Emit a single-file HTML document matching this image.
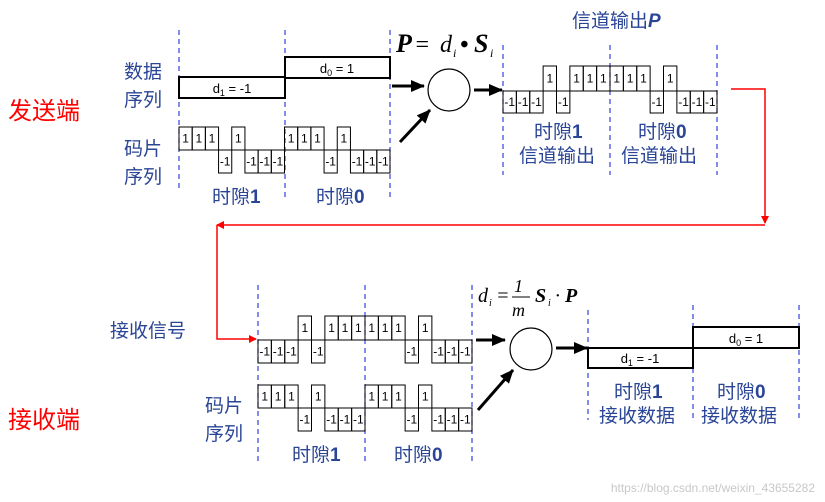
<!DOCTYPE html>
<html><head><meta charset="utf-8"><style>
html,body{margin:0;padding:0;background:#fff;}
svg{display:block;}
.lb{font-family:"Liberation Sans","Noto Sans CJK SC",sans-serif;fill:#2a4596;font-size:19px;}
.b{font-weight:bold;}
.red{font-family:"Liberation Sans","Noto Sans CJK SC",sans-serif;fill:#f00;font-size:24px;}
.ch{font-family:"Liberation Sans",sans-serif;font-size:12px;fill:#000;text-anchor:middle;}
.dt{font-family:"Liberation Sans",sans-serif;font-size:13px;fill:#000;text-anchor:middle;}
.eq{font-family:"Liberation Serif",serif;font-style:italic;fill:#000;}
</style></head><body>
<svg id="s" width="825" height="502" viewBox="0 0 825 502" xmlns="http://www.w3.org/2000/svg">
<defs>
<marker id="ak" markerWidth="14" markerHeight="12" refX="13" refY="6" orient="auto" markerUnits="userSpaceOnUse"><path d="M0,0 L14,6 L0,12 z" fill="#000"/></marker>
<marker id="ar" markerWidth="8" markerHeight="8" refX="7" refY="4" orient="auto" markerUnits="userSpaceOnUse"><path d="M0,0 L8,4 L0,8 z" fill="#f00"/></marker>
</defs>
<g stroke="#3344dd" stroke-width="1.2" stroke-dasharray="5,4" fill="none">
<line x1="179" y1="30" x2="179" y2="190"/><line x1="285" y1="30" x2="285" y2="200"/><line x1="390" y1="30" x2="390" y2="200"/>
<line x1="503" y1="45" x2="503" y2="175"/><line x1="610" y1="45" x2="610" y2="175"/><line x1="717" y1="45" x2="717" y2="175"/>
<line x1="258" y1="285" x2="258" y2="465"/><line x1="365" y1="285" x2="365" y2="465"/><line x1="472" y1="285" x2="472" y2="465"/>
<line x1="588" y1="310" x2="588" y2="420"/><line x1="693" y1="305" x2="693" y2="420"/><line x1="799" y1="305" x2="799" y2="420"/>
</g>
<g fill="none" stroke="#000" stroke-width="2">
<rect x="179" y="77" width="106" height="21"/><rect x="285" y="57" width="105" height="21"/>
<rect x="588" y="348" width="105" height="20"/><rect x="693" y="327" width="106" height="21"/>
</g>
<text class="dt" x="232" y="93">d<tspan font-size="9" dy="3">1</tspan><tspan dy="-3"> = -1</tspan></text>
<text class="dt" x="337" y="73">d<tspan font-size="9" dy="3">0</tspan><tspan dy="-3"> = 1</tspan></text>
<text class="dt" x="640" y="363">d<tspan font-size="9" dy="3">1</tspan><tspan dy="-3"> = -1</tspan></text>
<text class="dt" x="746" y="343">d<tspan font-size="9" dy="3">0</tspan><tspan dy="-3"> = 1</tspan></text>
<g id="chips"></g>
<circle cx="449" cy="90" r="21" fill="none" stroke="#000" stroke-width="1.2"/>
<circle cx="531" cy="349" r="21" fill="none" stroke="#000" stroke-width="1.2"/>
<g stroke="#000" stroke-width="3" fill="none">
<line x1="392" y1="86" x2="424" y2="86" marker-end="url(#ak)"/>
<line x1="400" y1="142" x2="430" y2="110" marker-end="url(#ak)"/>
<line x1="474" y1="90" x2="502" y2="90" marker-end="url(#ak)"/>
<line x1="476" y1="340" x2="505" y2="340" marker-end="url(#ak)"/>
<line x1="478" y1="410" x2="513" y2="370" marker-end="url(#ak)"/>
<line x1="556" y1="348" x2="587" y2="348" marker-end="url(#ak)"/>
</g>
<g stroke="#f00" stroke-width="1.5" fill="none">
<polyline points="731,89 765,89 765,223" marker-end="url(#ar)"/>
<polyline points="765,225 217,225" marker-end="url(#ar)"/>
<polyline points="217,225 217,339 256,339" marker-end="url(#ar)"/>
</g>
<text class="eq" x="396" y="52" font-size="26" font-weight="bold">P</text>
<text class="eq" x="414" y="52" font-size="24" font-style="normal">=</text>
<text class="eq" x="440" y="52" font-size="24">d</text><text class="eq" x="453" y="57" font-size="12">i</text>
<text class="eq" x="460" y="52" font-size="24" font-weight="bold" font-style="normal">•</text>
<text class="eq" x="474" y="52" font-size="26" font-weight="bold">S</text><text class="eq" x="490" y="57" font-size="12">i</text>
<text class="eq" x="478" y="302" font-size="20">d</text><text class="eq" x="489" y="306" font-size="10">i</text>
<text class="eq" x="496" y="302" font-size="20" font-style="normal">=</text>
<text class="eq" x="514" y="292" font-size="18" font-style="normal">1</text>
<line x1="512" y1="297" x2="530" y2="297" stroke="#000" stroke-width="1"/>
<text class="eq" x="512" y="316" font-size="18">m</text>
<text class="eq" x="535" y="302" font-size="20" font-weight="bold">S</text><text class="eq" x="548" y="306" font-size="10">i</text>
<text class="eq" x="555" y="302" font-size="20" font-style="normal">·</text>
<text class="eq" x="565" y="302" font-size="20" font-weight="bold">P</text>
<text class="red" x="8" y="119">发送端</text>
<text class="red" x="8" y="428">接收端</text>
<text class="lb" x="124" y="78">数据</text><text class="lb" x="124" y="106">序列</text>
<text class="lb" x="124" y="155">码片</text><text class="lb" x="124" y="183">序列</text>
<text class="lb" x="212" y="203">时隙<tspan class="b">1</tspan></text>
<text class="lb" x="316" y="203">时隙<tspan class="b">0</tspan></text>
<text class="lb" x="572" y="27">信道输出<tspan class="b" font-style="italic">P</tspan></text>
<text class="lb" x="534" y="138">时隙<tspan class="b">1</tspan></text>
<text class="lb" x="519" y="162">信道输出</text>
<text class="lb" x="638" y="138">时隙<tspan class="b">0</tspan></text>
<text class="lb" x="621" y="162">信道输出</text>
<text class="lb" x="110" y="337">接收信号</text>
<text class="lb" x="205" y="412">码片</text><text class="lb" x="205" y="440">序列</text>
<text class="lb" x="292" y="461">时隙<tspan class="b">1</tspan></text>
<text class="lb" x="394" y="461">时隙<tspan class="b">0</tspan></text>
<text class="lb" x="614" y="398">时隙<tspan class="b">1</tspan></text>
<text class="lb" x="599" y="422">接收数据</text>
<text class="lb" x="717" y="398">时隙<tspan class="b">0</tspan></text>
<text class="lb" x="701" y="422">接收数据</text>
<text x="815" y="492" text-anchor="end" font-family="Liberation Sans,sans-serif" font-size="12" fill="#c8c8c8">https://blog.csdn.net/weixin_43655282</text>
</svg>
<script>
var code=[1,1,1,-1,1,-1,-1,-1],neg=code.map(function(v){return -v;});
var g=document.getElementById('chips'),ns='http://www.w3.org/2000/svg';
function draw(x0,x1,top,base,bot,seq){
 var w=(x1-x0)/seq.length;
 seq.forEach(function(v,i){
  var r=document.createElementNS(ns,'rect');var x=x0+i*w;
  var y=v>0?top:base,h=v>0?base-top:bot-base;
  r.setAttribute('x',x);r.setAttribute('y',y);r.setAttribute('width',w);r.setAttribute('height',h);
  r.setAttribute('fill','none');r.setAttribute('stroke','#000');r.setAttribute('stroke-width','1');g.appendChild(r);
  var t=document.createElementNS(ns,'text');t.setAttribute('class','ch');t.setAttribute('x',x+w/2);t.setAttribute('y',y+h/2+4);
  t.textContent=v>0?'1':'-1';g.appendChild(t);
 });
}
draw(179,390,127,150,173,code.concat(code));
draw(503,717,66,91,113,neg.concat(code));
draw(258,472,316,340,363,neg.concat(code));
draw(258,472,385,408,431,code.concat(code));
</script>
</body></html>
